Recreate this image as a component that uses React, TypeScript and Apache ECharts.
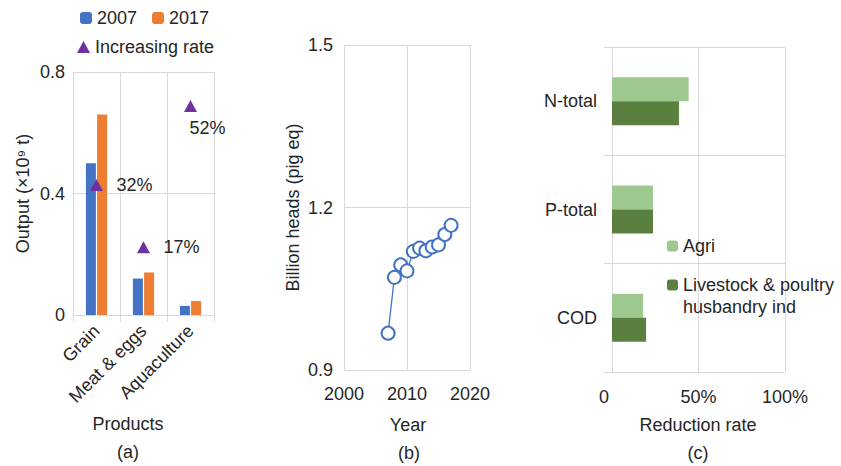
import React, { useEffect, useRef } from "react";
import * as echarts from "echarts";

const products = ["Grain", "Meat & eggs", "Aquaculture"];
const output2007 = [0.5, 0.12, 0.03];
const output2017 = [0.66, 0.14, 0.046];
const rateMarker = [0.428, 0.223, 0.688];
const rateLabels = ["32%", "17%", "52%"];

const years = [2007, 2008, 2009, 2010, 2011, 2012, 2013, 2014, 2015, 2016, 2017];
const heads = [0.968, 1.071, 1.094, 1.083, 1.119, 1.125, 1.12, 1.127, 1.131, 1.15, 1.167];

const pollutants = ["N-total", "P-total", "COD"];
const agriReduction = [0.443, 0.237, 0.18];
const livestockReduction = [0.387, 0.237, 0.197];

const FONT = "Liberation Sans, Arial, sans-serif";
const FS = 18;
const TXT = "#262626";
const GRID = "#d9d9d9";

export default function App() {
  const ref = useRef<HTMLDivElement>(null);
  useEffect(() => {
    if (!ref.current) return;
    const chart = echarts.init(ref.current, undefined, { renderer: "svg" });
    const ts = { fontFamily: FONT, fontSize: FS, color: TXT };
    const labelOffsets = [[38, 0], [38, 0], [17, 22]];
    const gText = (text: string, x: number, y: number) => ({
      type: "text",
      x,
      y,
      style: { text, fill: TXT, font: `${FS}px ${FONT}`, textAlign: "center", textVerticalAlign: "middle" },
    });
    chart.setOption({
      animation: false,
      textStyle: { fontFamily: FONT, color: TXT },
      grid: [
        { left: 73, top: 72, width: 141, height: 243 },
        { left: 344, top: 45, width: 126, height: 325 },
        { left: 612, top: 47, width: 173, height: 325 },
      ],
      legend: [
        {
          data: ["2007", "2017"],
          left: 75,
          top: 4,
          itemWidth: 12,
          itemHeight: 12,
          itemGap: 15,
          textStyle: ts,
        },
        {
          data: [{ name: "Increasing rate", icon: "triangle" }],
          left: 72,
          top: 33,
          itemWidth: 13,
          itemHeight: 12,
          itemGap: 6,
          textStyle: ts,
        },
        {
          data: ["Agri"],
          left: 662,
          top: 230,
          itemWidth: 11,
          itemHeight: 11,
          textStyle: { ...ts, lineHeight: 22 },
        },
        {
          data: ["Livestock & poultry husbandry ind"],
          left: 662,
          top: 247,
          itemWidth: 11,
          itemHeight: 11,
          formatter: () => "\nLivestock & poultry\nhusbandry ind",
          textStyle: { ...ts, lineHeight: 22 },
        },
      ],
      xAxis: [
        {
          gridIndex: 0,
          type: "category",
          data: products,
          axisLine: { lineStyle: { color: GRID } },
          axisTick: { show: true, length: 7, lineStyle: { color: GRID } },
          splitLine: { show: true, lineStyle: { color: GRID } },
          axisLabel: { ...ts, rotate: 45, margin: 13, interval: 0 },
        },
        {
          gridIndex: 1,
          type: "value",
          min: 2000,
          max: 2020,
          interval: 10,
          axisLine: { show: true, lineStyle: { color: GRID } },
          axisTick: { show: false },
          splitLine: { show: true, lineStyle: { color: GRID } },
          axisLabel: { ...ts, margin: 15, formatter: (v: number) => String(v) },
        },
        {
          gridIndex: 2,
          type: "value",
          min: 0,
          max: 1,
          interval: 0.5,
          axisLine: { show: false },
          axisTick: { show: false },
          splitLine: { show: true, lineStyle: { color: GRID } },
          axisLabel: {
            ...ts,
            margin: 16,
            formatter: (v: number) => (v === 0 ? "{z|0}" : Math.round(v * 100) + "%"),
            rich: { z: { fontFamily: FONT, fontSize: FS, color: TXT, padding: [0, 16, 0, 0] } },
          },
        },
      ],
      yAxis: [
        {
          gridIndex: 0,
          type: "value",
          min: 0,
          max: 0.8,
          interval: 0.4,
          axisLine: { show: false },
          axisTick: { show: false },
          splitLine: { show: true, lineStyle: { color: GRID } },
          axisLabel: {
            ...ts,
            margin: 8,
            formatter: (v: number) => (v === 0 ? "0" : v.toFixed(1)),
          },
          name: "Output (×10⁹ t)",
          nameLocation: "middle",
          nameGap: 41,
          nameTextStyle: ts,
        },
        {
          gridIndex: 1,
          type: "value",
          min: 0.9,
          max: 1.5,
          interval: 0.3,
          axisLine: { show: true, lineStyle: { color: GRID } },
          axisTick: { show: false },
          splitLine: { show: true, lineStyle: { color: GRID } },
          axisLabel: { ...ts, margin: 11, formatter: (v: number) => v.toFixed(1) },
          name: "Billion heads (pig eq)",
          nameLocation: "middle",
          nameGap: 42,
          nameTextStyle: ts,
        },
        {
          gridIndex: 2,
          type: "category",
          data: pollutants,
          inverse: true,
          axisLine: { show: true, lineStyle: { color: GRID } },
          axisTick: { show: true, length: 8, lineStyle: { color: GRID } },
          splitLine: { show: true, lineStyle: { color: GRID } },
          axisLabel: { ...ts, margin: 15 },
        },
      ],
      series: [
        {
          name: "2007",
          type: "bar",
          xAxisIndex: 0,
          yAxisIndex: 0,
          data: output2007,
          barWidth: 10,
          barGap: "12%",
          itemStyle: { color: "#4472C4" },
        },
        {
          name: "2017",
          type: "bar",
          xAxisIndex: 0,
          yAxisIndex: 0,
          data: output2017,
          barWidth: 10,
          barGap: "12%",
          itemStyle: { color: "#ED7D31" },
        },
        {
          name: "Increasing rate",
          type: "scatter",
          xAxisIndex: 0,
          yAxisIndex: 0,
          symbol: "triangle",
          symbolSize: [13, 12],
          itemStyle: { color: "#7030A0", opacity: 1 },
          data: rateMarker.map((v, i) => ({
            value: v,
            label: {
              show: true,
              position: "inside",
              offset: labelOffsets[i],
              formatter: rateLabels[i],
              fontFamily: FONT,
              fontSize: FS,
              color: TXT,
              textBorderWidth: 0,
              textBorderColor: "transparent",
            },
          })),
        },
        {
          name: "Pig",
          type: "line",
          xAxisIndex: 1,
          yAxisIndex: 1,
          data: years.map((y, i) => [y, heads[i]]),
          symbol: "emptyCircle",
          symbolSize: 13,
          lineStyle: { color: "#4472C4", width: 1.3 },
          itemStyle: { color: "#4472C4", borderWidth: 1.3 },
        },
        {
          name: "Agri",
          type: "bar",
          xAxisIndex: 2,
          yAxisIndex: 2,
          data: agriReduction,
          barWidth: 24,
          barGap: "0%",
          itemStyle: { color: "#9DC88F" },
        },
        {
          name: "Livestock & poultry husbandry ind",
          type: "bar",
          xAxisIndex: 2,
          yAxisIndex: 2,
          data: livestockReduction,
          barWidth: 24,
          barGap: "0%",
          itemStyle: { color: "#5B7F3F" },
        },
      ],
      graphic: [
        gText("Products", 128, 424),
        gText("(a)", 128, 452),
        gText("Year", 408, 425),
        gText("(b)", 409, 453),
        gText("Reduction rate", 698, 425),
        gText("(c)", 698, 453),
      ],
    });
    return () => chart.dispose();
  }, []);
  return (
    <div
      ref={ref}
      style={{ position: "fixed", left: 0, top: 0, width: 841, height: 466, background: "#fff" }}
    />
  );
}
